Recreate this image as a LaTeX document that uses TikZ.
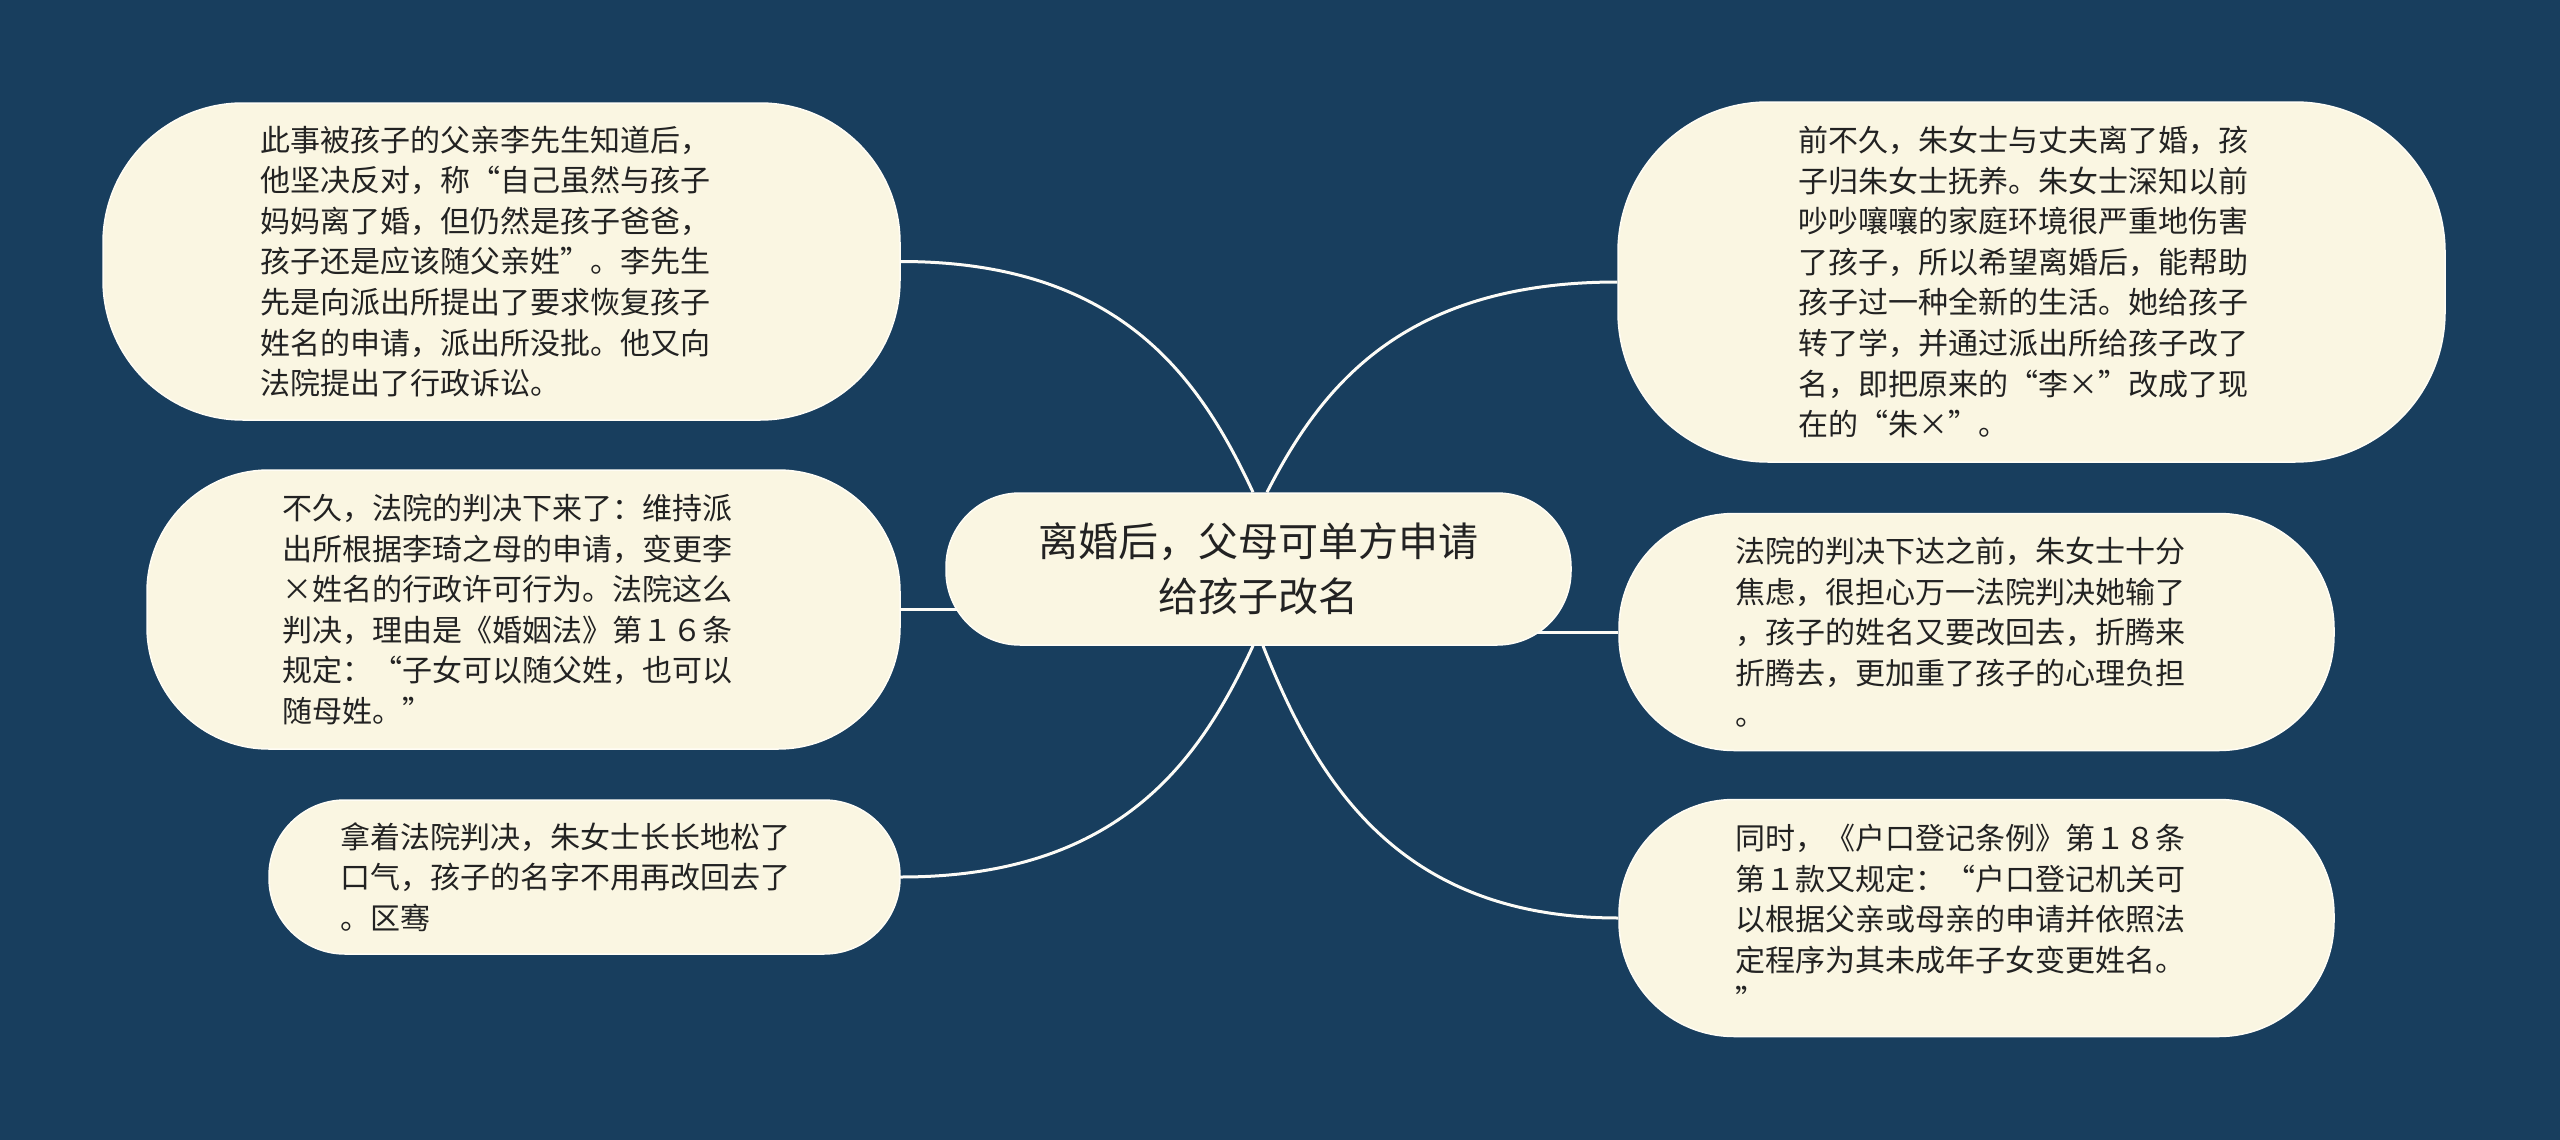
\documentclass[tikz,border=0pt]{standalone}
\usepackage{fontspec}
\newfontfamily\cjk{Noto Sans CJK SC}
\usetikzlibrary{backgrounds}
\definecolor{bgc}{RGB}{24,62,94}
\definecolor{boxc}{RGB}{250,246,226}
\definecolor{edgec}{RGB}{255,253,245}
\definecolor{linec}{RGB}{252,251,246}
\definecolor{txtc}{RGB}{34,34,34}
\tikzset{
  box/.style={draw=edgec, line width=1.5pt, fill=boxc, inner sep=0pt},
  txt/.style={inner sep=0pt, align=left, text=txtc, font=\cjk\fontsize{30pt}{40.6pt}\selectfont},
  topicbox/.style={box, align=center, text=txtc, font=\cjk\fontsize{40pt}{55pt}\selectfont},
  link/.style={draw=linec, line width=3pt}
}
\begin{document}
\begin{tikzpicture}[x=1pt,y=-1pt]
\useasboundingbox (0,0) rectangle (2560,1140);

\node[topicbox, minimum width=625pt, minimum height=152pt, rounded corners=74pt] (c) at (1258.5,569)
  {离婚后，父母可单方申请\\给孩子改名};

\node[box, minimum width=797pt, minimum height=317pt, rounded corners=140pt] (n1) at (501.5,261.5) {};
\node[txt] (t1) at ([xshift=-16pt]n1.center)
  {此事被孩子的父亲李先生知道后，\\他坚决反对，称“自己虽然与孩子\\妈妈离了婚，但仍然是孩子爸爸，\\孩子还是应该随父亲姓”。李先生\\先是向派出所提出了要求恢复孩子\\姓名的申请，派出所没批。他又向\\法院提出了行政诉讼。};

\node[box, minimum width=753pt, minimum height=279pt, rounded corners=122pt] (n2) at (523.5,609.5) {};
\node[txt] (t2) at ([xshift=-16pt]n2.center)
  {不久，法院的判决下来了：维持派\\出所根据李琦之母的申请，变更李\\×姓名的行政许可行为。法院这么\\判决，理由是《婚姻法》第１６条\\规定：“子女可以随父姓，也可以\\随母姓。”};

\node[box, minimum width=631pt, minimum height=154pt, rounded corners=76pt] (n3) at (584.5,877) {};
\node[txt] (t3) at ([xshift=-19pt]n3.center)
  {拿着法院判决，朱女士长长地松了\\口气，孩子的名字不用再改回去了\\。区骞};

\node[box, minimum width=827pt, minimum height=360pt, rounded corners=150pt] (n5) at (2031.5,282) {};
\node[txt] (t5) at ([xshift=-8pt]n5.center)
  {前不久，朱女士与丈夫离了婚，孩\\子归朱女士抚养。朱女士深知以前\\吵吵嚷嚷的家庭环境很严重地伤害\\了孩子，所以希望离婚后，能帮助\\孩子过一种全新的生活。她给孩子\\转了学，并通过派出所给孩子改了\\名，即把原来的“李×”改成了现\\在的“朱×”。};

\node[box, minimum width=715pt, minimum height=237pt, rounded corners=115pt] (n6) at (1976.5,632) {};
\node[txt] (t6) at ([xshift=-16pt]n6.center)
  {法院的判决下达之前，朱女士十分\\焦虑，很担心万一法院判决她输了\\，孩子的姓名又要改回去，折腾来\\折腾去，更加重了孩子的心理负担\\。};

\node[box, minimum width=715pt, minimum height=237pt, rounded corners=115pt] (n7) at (1976.5,918) {};
\node[txt] (t7) at ([xshift=-16pt]n7.center)
  {同时，《户口登记条例》第１８条\\第１款又规定：“户口登记机关可\\以根据父亲或母亲的申请并依照法\\定程序为其未成年子女变更姓名。\\”};

\coordinate (cTL) at ([xshift=-5.5pt]c.north);
\coordinate (cTR) at ([xshift=8.5pt]c.north);
\coordinate (cBL) at ([xshift=-5.5pt]c.south);
\coordinate (cBR) at ([xshift=4.5pt]c.south);

\begin{pgfonlayer}{background}
  \fill[bgc] (0,0) rectangle (2560,1140);
  \draw[link] (n1.east) .. controls +(220,0) and +(-53,-114) .. (cTL);
  \draw[link] (n5.west) .. controls +(-217,0) and +(53,-103) .. (cTR);
  \draw[link] (n3.east) .. controls +(220,0) and +(-53,114) .. (cBL);
  \draw[link] (n7.west) .. controls +(-221,0) and +(53,134) .. (cBR);
  \draw[link] (n2.east) -- (n2.east -| c.center);
  \draw[link] (n6.west) -- (n6.west -| c.center);
\end{pgfonlayer}
\end{tikzpicture}
\end{document}
